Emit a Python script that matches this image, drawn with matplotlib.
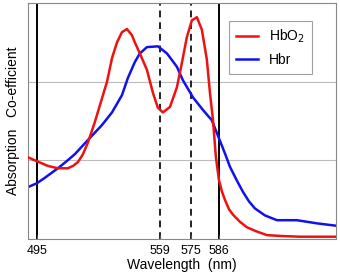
import matplotlib
matplotlib.use('Agg')
import matplotlib.pyplot as plt

plt.rcParams['font.family'] = ['Liberation Sans', 'DejaVu Sans']

# HbO2 absorption curve
hbo2_nm = [490.3, 495, 500.7, 505.9, 511.1, 513.8, 516.4, 519.0, 521.6, 525.2,
           528.9, 531.5, 534.1, 536.7, 539.3, 541.9, 544.5, 546.0, 548.6, 552.3,
           555.4, 558.0, 560.6, 564.3, 567.9, 570.5, 573.1, 575.7, 578.3, 580.9,
           583.5, 585.1, 586.7, 588.2, 589.8, 591.4, 592.9, 595.0, 597.1, 600.7,
           604.4, 609.1, 614.8, 621.6, 632.0, 650.7]
hbo2_abs = [1.04, 0.99, 0.93, 0.90, 0.90, 0.93, 0.98, 1.08, 1.23, 1.49,
            1.79, 2.00, 2.30, 2.50, 2.63, 2.67, 2.59, 2.50, 2.36, 2.15,
            1.86, 1.67, 1.61, 1.68, 1.93, 2.24, 2.57, 2.78, 2.82, 2.66,
            2.28, 1.86, 1.51, 1.04, 0.75, 0.60, 0.50, 0.38, 0.31, 0.22,
            0.15, 0.10, 0.05, 0.04, 0.03, 0.03]

# Hbr absorption curve
hbr_nm = [490.3, 495, 499.2, 505.9, 510.0, 514.8, 521.6, 528.9, 534.1, 539.3,
          542.4, 546.0, 548.6, 552.3, 558.0, 562.7, 567.9, 571.0, 576.3, 581.5,
          586.1, 589.8, 592.9, 595.5, 599.2, 602.3, 605.4, 608.5, 613.8, 620.0,
          630.4, 640.8, 650.7]
hbr_abs = [0.66, 0.71, 0.78, 0.90, 0.98, 1.08, 1.26, 1.45, 1.61, 1.83,
           2.05, 2.25, 2.36, 2.44, 2.45, 2.36, 2.19, 2.02, 1.80, 1.64,
           1.51, 1.28, 1.09, 0.92, 0.74, 0.60, 0.48, 0.39, 0.30, 0.24,
           0.24, 0.20, 0.17]

# marker wavelengths (as drawn) and their labels
solid_nm = [495, 590]
dashed_nm = [559, 575]
tick_nm = [495, 559, 575, 590]
tick_labels = ['495', '559', '575', '586']

fig = plt.figure(figsize=(3.4, 2.78), dpi=100)
ax = fig.add_axes([0.082, 0.140, 0.906, 0.849])

for y in [1, 2]:
    ax.axhline(y, color='#bbbbbb', lw=0.8, zorder=0)

for x in solid_nm:
    ax.axvline(x, color='black', lw=1.4, zorder=1)
for x in dashed_nm:
    ax.axvline(x, color='#222222', lw=1.4, ls=(0, (3.5, 2.5)), zorder=1)

ax.plot(hbo2_nm, hbo2_abs, color='#ee1111', lw=1.8, label='HbO$_2$', zorder=3)
ax.plot(hbr_nm, hbr_abs, color='#1111ee', lw=1.8, label='Hbr', zorder=2)

ax.set_xlim(490.3, 650.7)
ax.set_ylim(0, 3)
ax.set_xticks(tick_nm)
ax.set_xticklabels(tick_labels, fontsize=9)
ax.set_yticks([])
ax.tick_params(axis='x', direction='in', length=3, color='#555555', pad=4)

for s in ax.spines.values():
    s.set_color('#888888')
    s.set_linewidth(0.8)

ax.set_xlabel('Wavelength  (nm)', fontsize=10, labelpad=1)
ax.set_ylabel('Absorption   Co-efficient', fontsize=10, labelpad=6)

leg = ax.legend(loc='upper right', bbox_to_anchor=(0.922, 0.924), borderaxespad=0,
                fancybox=False, fontsize=10, handlelength=1.6, handletextpad=0.8,
                labelspacing=0.55, borderpad=0.5)
leg.get_frame().set_edgecolor('#888888')
leg.get_frame().set_linewidth(0.8)

fig.savefig('out.png', dpi=100)
